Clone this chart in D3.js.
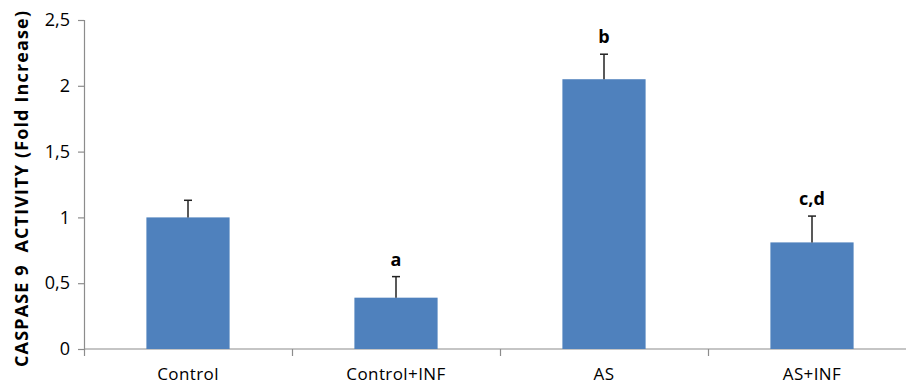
<!DOCTYPE html>
<html>
<head>
<meta charset="utf-8">
<script src="https://cdn.jsdelivr.net/npm/d3@7"></script>
<style>
  body { margin: 0; background: #fff; }
  svg { display: block; }
</style>
</head>
<body>
<div id="container"></div>
<script>
const width = 906, height = 386;

// data
const groups = ["Control", "Control+INF", "AS", "AS+INF"];
const means = [1.0, 0.39, 2.05, 0.81];
const errors = [0.13, 0.16, 0.19, 0.2];
const letters = ["", "a", "b", "c,d"];
const yTicks = [0, 0.5, 1, 1.5, 2, 2.5];

const margin = { left: 84, top: 20, bottom: 37 };
const font = 'Open Sans, sans-serif';

const svg = d3.select('#container')
    .append('svg')
    .attr('width', width)
    .attr('height', height);

const x = d3.scaleBand()
    .domain(groups)
    .range([margin.left, margin.left + 4 * 208])
    .paddingInner(0.6)
    .paddingOuter(0.3);

const y = d3.scaleLinear()
    .domain([0, 2.5])
    .range([height - margin.bottom, margin.top]);

const fmt = d => String(d).replace('.', ',');

// y axis
const yAxis = svg.append('g')
    .attr('transform', `translate(${margin.left},0)`)
    .call(d3.axisLeft(y).tickValues(yTicks).tickFormat(fmt).tickSize(6).tickPadding(8));
yAxis.select('.domain').attr('stroke', '#8c8c8c').attr('stroke-width', 1.2);
yAxis.selectAll('.tick line').attr('stroke', '#8c8c8c').attr('stroke-width', 1.2);
yAxis.selectAll('.tick text')
    .attr('font-family', font)
    .attr('font-size', 18)
    .attr('fill', '#000');

// x axis line + ticks at band boundaries
const xBase = y(0);
svg.append('line')
    .attr('x1', margin.left).attr('x2', width)
    .attr('y1', xBase).attr('y2', xBase)
    .attr('stroke', '#8c8c8c').attr('stroke-width', 1.2);

const step = x.step();
svg.append('g')
    .selectAll('line')
    .data(groups)
    .enter()
    .append('line')
    .attr('x1', d => x(d) - x.paddingOuter() * step + 0.5)
    .attr('x2', d => x(d) - x.paddingOuter() * step + 0.5)
    .attr('y1', xBase)
    .attr('y2', xBase + 7)
    .attr('stroke', '#8c8c8c')
    .attr('stroke-width', 1.2);

svg.append('g')
    .selectAll('text')
    .data(groups)
    .enter()
    .append('text')
    .attr('x', d => x(d) + x.bandwidth() / 2)
    .attr('y', 380)
    .attr('text-anchor', 'middle')
    .attr('font-family', font)
    .attr('font-size', 17)
    .attr('letter-spacing', 0.4)
    .text(d => d);

// bars
svg.append('g')
    .selectAll('rect')
    .data(groups)
    .enter()
    .append('rect')
    .attr('x', d => x(d))
    .attr('y', (d, i) => y(means[i]))
    .attr('width', x.bandwidth())
    .attr('height', (d, i) => y(0) - y(means[i]))
    .attr('fill', '#4f81bd');

// error bars (upper only)
const err = svg.append('g')
    .attr('stroke', '#222')
    .attr('stroke-width', 1.5);
groups.forEach((g, i) => {
    const cx = x(g) + x.bandwidth() / 2;
    err.append('line')
        .attr('x1', cx).attr('x2', cx)
        .attr('y1', y(means[i])).attr('y2', y(means[i] + errors[i]));
    err.append('line')
        .attr('x1', cx - 4).attr('x2', cx + 4)
        .attr('y1', y(means[i] + errors[i])).attr('y2', y(means[i] + errors[i]));
});

// significance letters
svg.append('g')
    .selectAll('text')
    .data(groups)
    .enter()
    .append('text')
    .attr('x', d => x(d) + x.bandwidth() / 2)
    .attr('y', (d, i) => y(means[i] + errors[i]) - 11)
    .attr('text-anchor', 'middle')
    .attr('font-family', font)
    .attr('font-weight', 'bold')
    .attr('font-size', 18)
    .text((d, i) => letters[i]);

// y axis title
svg.append('text')
    .attr('transform', 'translate(28,189) rotate(-90)')
    .attr('text-anchor', 'middle')
    .attr('font-family', font)
    .attr('font-weight', 'bold')
    .attr('font-size', 18)
    .attr('textLength', 356)
    .attr('lengthAdjust', 'spacing')
    .attr('xml:space', 'preserve')
    .text('CASPASE 9  ACTIVITY (Fold Increase)');
</script>
</body>
</html>
